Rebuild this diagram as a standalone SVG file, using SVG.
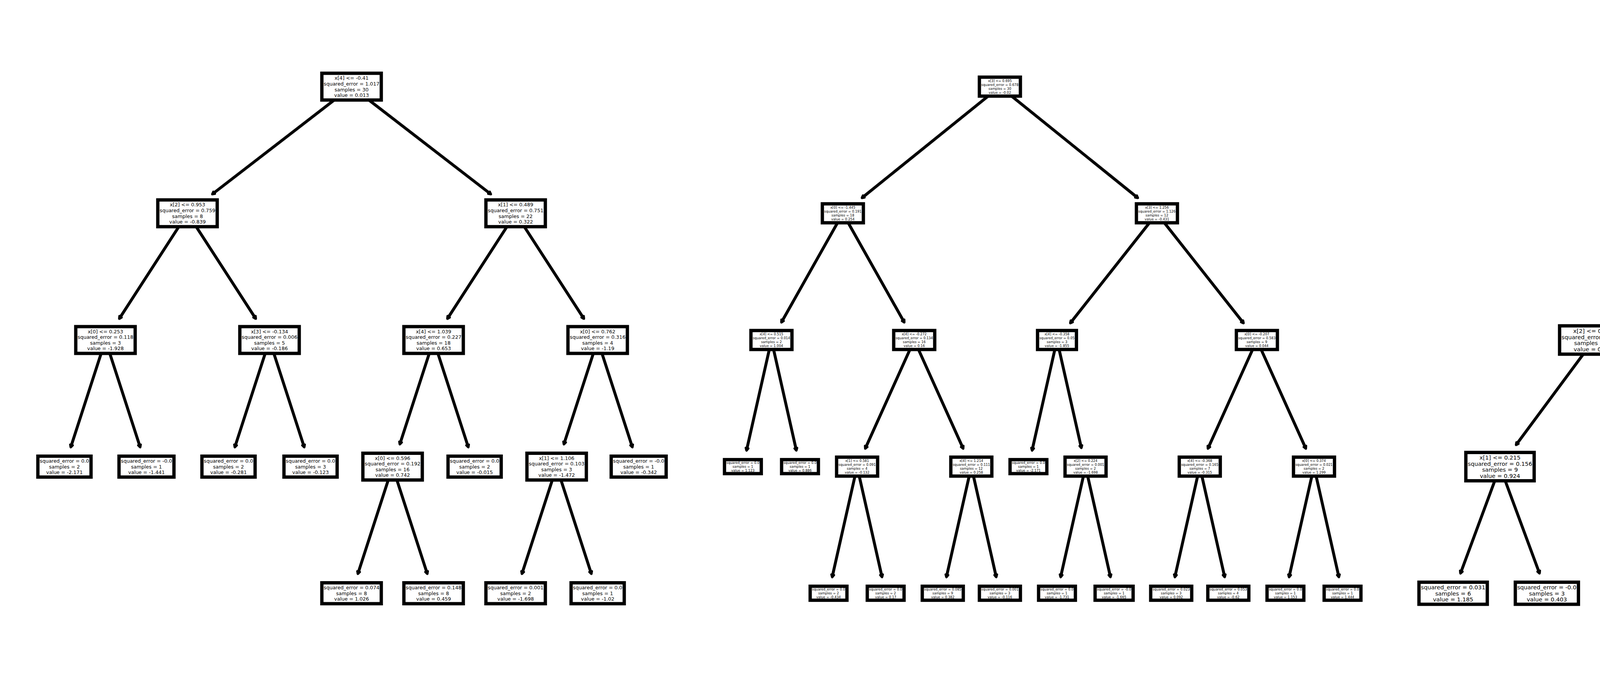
<svg xmlns="http://www.w3.org/2000/svg" width="5339" height="1740" viewBox="0 0 5339 1740">
<style>
.b{fill:#fff;stroke:#000;stroke-width:8.5}
text{font-family:"DejaVu Sans",sans-serif;text-anchor:middle;dominant-baseline:central;fill:#000}
.T1 text{font-size:12.6px}
.T2 text{font-size:8.45px}
.T3 text{font-size:14.6px}
.e line{stroke:#000;stroke-width:7.5;fill:none;marker-end:url(#ah)}
</style>
<defs>
<marker id="ah" viewBox="-12 -12 24 24" markerWidth="24" markerHeight="24" refX="0" refY="0" orient="auto" markerUnits="userSpaceOnUse"><path d="M-6,-3.2 L0,0 L-6,3.2" fill="none" stroke="#000" stroke-width="6" stroke-linejoin="round" stroke-linecap="round"/></marker>
</defs>
<rect x="0" y="0" width="5339" height="1740" fill="#fff"/>
<g id="connectors" class="e">
<line x1="855.6" y1="256" x2="543.4" y2="496.9"/>
<line x1="944.4" y1="256" x2="1256.6" y2="496.9"/>
<line x1="457.8" y1="580" x2="305.3" y2="815.6"/>
<line x1="502.2" y1="580" x2="654.8" y2="815.6"/>
<line x1="1297.8" y1="580" x2="1145.3" y2="815.6"/>
<line x1="1342.2" y1="580" x2="1494.8" y2="815.6"/>
<line x1="258.9" y1="904.3" x2="181.1" y2="1144.4"/>
<line x1="281.1" y1="904.3" x2="358.9" y2="1144.4"/>
<line x1="678.9" y1="904.3" x2="601.1" y2="1144.4"/>
<line x1="701.1" y1="904.3" x2="778.9" y2="1144.4"/>
<line x1="1098.9" y1="904.3" x2="1023.5" y2="1136.9"/>
<line x1="1121.1" y1="904.3" x2="1198.9" y2="1144.4"/>
<line x1="1518.9" y1="904.3" x2="1443.5" y2="1136.9"/>
<line x1="1541.1" y1="904.3" x2="1618.9" y2="1144.4"/>
<line x1="993.9" y1="1228.3" x2="916.1" y2="1468.4"/>
<line x1="1016.1" y1="1228.3" x2="1093.9" y2="1468.4"/>
<line x1="1413.9" y1="1228.3" x2="1336.1" y2="1468.4"/>
<line x1="1436.1" y1="1228.3" x2="1513.9" y2="1468.4"/>
<line x1="2529.6" y1="246" x2="2206.5" y2="506.5"/>
<line x1="2589.8" y1="246" x2="2912.9" y2="506.5"/>
<line x1="2144" y1="570.1" x2="2000.4" y2="824.9"/>
<line x1="2171.4" y1="570.1" x2="2315" y2="824.9"/>
<line x1="2942.6" y1="570.1" x2="2739.9" y2="826.9"/>
<line x1="2980.8" y1="570.1" x2="3183.5" y2="826.9"/>
<line x1="1969.4" y1="894.3" x2="1911.1" y2="1152.7"/>
<line x1="1980.4" y1="894.3" x2="2038.7" y2="1152.7"/>
<line x1="2329.5" y1="894.3" x2="2215" y2="1147.9"/>
<line x1="2351.3" y1="894.3" x2="2465.8" y2="1147.9"/>
<line x1="2700.4" y1="894.3" x2="2642.1" y2="1152.7"/>
<line x1="2711.4" y1="894.3" x2="2768.3" y2="1146.3"/>
<line x1="3206.7" y1="894.3" x2="3092.2" y2="1147.9"/>
<line x1="3228.5" y1="894.3" x2="3343" y2="1147.9"/>
<line x1="2188.7" y1="1218.3" x2="2130.4" y2="1476.7"/>
<line x1="2199.7" y1="1218.3" x2="2258" y2="1476.7"/>
<line x1="2481.1" y1="1218.3" x2="2422.8" y2="1476.7"/>
<line x1="2492.1" y1="1218.3" x2="2550.4" y2="1476.7"/>
<line x1="2773.5" y1="1218.3" x2="2715.2" y2="1476.7"/>
<line x1="2784.5" y1="1218.3" x2="2842.8" y2="1476.7"/>
<line x1="3065.9" y1="1218.3" x2="3007.6" y2="1476.7"/>
<line x1="3076.9" y1="1218.3" x2="3135.2" y2="1476.7"/>
<line x1="3358.3" y1="1218.3" x2="3300" y2="1476.7"/>
<line x1="3369.3" y1="1218.3" x2="3427.6" y2="1476.7"/>
<line x1="4673.1" y1="258" x2="4434" y2="492.7"/>
<line x1="4746.9" y1="258" x2="4986" y2="492.7"/>
<line x1="4346.4" y1="582.1" x2="4129.9" y2="816.1"/>
<line x1="4413.6" y1="582.1" x2="4630.1" y2="816.1"/>
<line x1="5026.6" y1="582.1" x2="4938.8" y2="819.2"/>
<line x1="5053.4" y1="582.1" x2="5141.2" y2="819.2"/>
<line x1="4053.2" y1="906.3" x2="3881.1" y2="1138.5"/>
<line x1="4106.8" y1="906.3" x2="4278.9" y2="1138.5"/>
<line x1="4666.6" y1="906.3" x2="4578.8" y2="1143.2"/>
<line x1="4693.4" y1="906.3" x2="4781.2" y2="1143.2"/>
<line x1="3826.6" y1="1230.3" x2="3738.8" y2="1467.2"/>
<line x1="3853.4" y1="1230.3" x2="3941.2" y2="1467.2"/>
<line x1="4306.6" y1="1230.3" x2="4218.8" y2="1467.2"/>
<line x1="4333.4" y1="1230.3" x2="4421.2" y2="1467.2"/>
</g>
<g id="tree1" class="T1">
<g id="t1-n0" transform="translate(900,221.7)"><rect class="b" x="-76.05" y="-34.25" width="152.1" height="68.5"/><text y="-21.9">x[4] &lt;= -0.41</text><text y="-7.3">squared_error = 1.017</text><text y="7.3">samples = 30</text><text y="21.9">value = 0.013</text></g>
<g id="t1-n1" transform="translate(480,545.8)"><rect class="b" x="-76.05" y="-34.25" width="152.1" height="68.5"/><text y="-21.9">x[2] &lt;= 0.953</text><text y="-7.3">squared_error = 0.759</text><text y="7.3">samples = 8</text><text y="21.9">value = -0.839</text></g>
<g id="t1-n2" transform="translate(1320,545.8)"><rect class="b" x="-76.05" y="-34.25" width="152.1" height="68.5"/><text y="-21.9">x[1] &lt;= 0.489</text><text y="-7.3">squared_error = 0.751</text><text y="7.3">samples = 22</text><text y="21.9">value = 0.322</text></g>
<g id="t1-n3" transform="translate(270,870)"><rect class="b" x="-76.05" y="-34.25" width="152.1" height="68.5"/><text y="-21.9">x[0] &lt;= 0.253</text><text y="-7.3">squared_error = 0.118</text><text y="7.3">samples = 3</text><text y="21.9">value = -1.928</text></g>
<g id="t1-n4" transform="translate(690,870)"><rect class="b" x="-76.05" y="-34.25" width="152.1" height="68.5"/><text y="-21.9">x[3] &lt;= -0.134</text><text y="-7.3">squared_error = 0.006</text><text y="7.3">samples = 5</text><text y="21.9">value = -0.186</text></g>
<g id="t1-n5" transform="translate(1110,870)"><rect class="b" x="-76.05" y="-34.25" width="152.1" height="68.5"/><text y="-21.9">x[4] &lt;= 1.039</text><text y="-7.3">squared_error = 0.227</text><text y="7.3">samples = 18</text><text y="21.9">value = 0.653</text></g>
<g id="t1-n6" transform="translate(1530,870)"><rect class="b" x="-76.05" y="-34.25" width="152.1" height="68.5"/><text y="-21.9">x[0] &lt;= 0.762</text><text y="-7.3">squared_error = 0.316</text><text y="7.3">samples = 4</text><text y="21.9">value = -1.19</text></g>
<g id="t1-n7" transform="translate(165,1194)"><rect class="b" x="-68.05" y="-26.75" width="136.1" height="53.5"/><text y="-14.6">squared_error = 0.0</text><text y="0">samples = 2</text><text y="14.6">value = -2.171</text></g>
<g id="t1-n8" transform="translate(375,1194)"><rect class="b" x="-70.35" y="-26.75" width="140.7" height="53.5"/><text y="-14.6">squared_error = -0.0</text><text y="0">samples = 1</text><text y="14.6">value = -1.441</text></g>
<g id="t1-n9" transform="translate(585,1194)"><rect class="b" x="-68.05" y="-26.75" width="136.1" height="53.5"/><text y="-14.6">squared_error = 0.0</text><text y="0">samples = 2</text><text y="14.6">value = -0.281</text></g>
<g id="t1-n10" transform="translate(795,1194)"><rect class="b" x="-68.05" y="-26.75" width="136.1" height="53.5"/><text y="-14.6">squared_error = 0.0</text><text y="0">samples = 3</text><text y="14.6">value = -0.123</text></g>
<g id="t1-n11" transform="translate(1005,1194)"><rect class="b" x="-76.05" y="-34.25" width="152.1" height="68.5"/><text y="-21.9">x[0] &lt;= 0.596</text><text y="-7.3">squared_error = 0.192</text><text y="7.3">samples = 16</text><text y="21.9">value = 0.742</text></g>
<g id="t1-n12" transform="translate(1215,1194)"><rect class="b" x="-68.05" y="-26.75" width="136.1" height="53.5"/><text y="-14.6">squared_error = 0.0</text><text y="0">samples = 2</text><text y="14.6">value = -0.015</text></g>
<g id="t1-n13" transform="translate(1425,1194)"><rect class="b" x="-76.05" y="-34.25" width="152.1" height="68.5"/><text y="-21.9">x[1] &lt;= 1.106</text><text y="-7.3">squared_error = 0.103</text><text y="7.3">samples = 3</text><text y="21.9">value = -1.472</text></g>
<g id="t1-n14" transform="translate(1635,1194)"><rect class="b" x="-70.35" y="-26.75" width="140.7" height="53.5"/><text y="-14.6">squared_error = -0.0</text><text y="0">samples = 1</text><text y="14.6">value = -0.342</text></g>
<g id="t1-n15" transform="translate(900,1518)"><rect class="b" x="-76.05" y="-26.75" width="152.1" height="53.5"/><text y="-14.6">squared_error = 0.074</text><text y="0">samples = 8</text><text y="14.6">value = 1.026</text></g>
<g id="t1-n16" transform="translate(1110,1518)"><rect class="b" x="-76.05" y="-26.75" width="152.1" height="53.5"/><text y="-14.6">squared_error = 0.148</text><text y="0">samples = 8</text><text y="14.6">value = 0.459</text></g>
<g id="t1-n17" transform="translate(1320,1518)"><rect class="b" x="-76.05" y="-26.75" width="152.1" height="53.5"/><text y="-14.6">squared_error = 0.001</text><text y="0">samples = 2</text><text y="14.6">value = -1.698</text></g>
<g id="t1-n18" transform="translate(1530,1518)"><rect class="b" x="-68.05" y="-26.75" width="136.1" height="53.5"/><text y="-14.6">squared_error = 0.0</text><text y="0">samples = 1</text><text y="14.6">value = -1.02</text></g>
</g>
<g id="tree2" class="T2">
<g id="t2-n0" transform="translate(2559.7,221.7)"><rect class="b" x="-52.5" y="-24.25" width="105" height="48.5"/><text y="-15.15">x[3] &lt;= 0.695</text><text y="-5.05">squared_error = 0.678</text><text y="5.05">samples = 30</text><text y="15.15">value = -0.02</text></g>
<g id="t2-n1" transform="translate(2157.7,545.8)"><rect class="b" x="-52.5" y="-24.25" width="105" height="48.5"/><text y="-15.15">x[0] &lt;= -1.445</text><text y="-5.05">squared_error = 0.191</text><text y="5.05">samples = 18</text><text y="15.15">value = 0.254</text></g>
<g id="t2-n2" transform="translate(2961.7,545.8)"><rect class="b" x="-52.5" y="-24.25" width="105" height="48.5"/><text y="-15.15">x[3] &lt;= 1.256</text><text y="-5.05">squared_error = 1.126</text><text y="5.05">samples = 12</text><text y="15.15">value = -0.431</text></g>
<g id="t2-n3" transform="translate(1974.9,870)"><rect class="b" x="-52.5" y="-24.25" width="105" height="48.5"/><text y="-15.15">x[4] &lt;= 0.515</text><text y="-5.05">squared_error = 0.014</text><text y="5.05">samples = 2</text><text y="15.15">value = 1.004</text></g>
<g id="t2-n4" transform="translate(2340.4,870)"><rect class="b" x="-52.5" y="-24.25" width="105" height="48.5"/><text y="-15.15">x[4] &lt;= -0.272</text><text y="-5.05">squared_error = 0.134</text><text y="5.05">samples = 16</text><text y="15.15">value = 0.16</text></g>
<g id="t2-n5" transform="translate(2705.9,870)"><rect class="b" x="-49.8" y="-24.25" width="99.6" height="48.5"/><text y="-15.15">x[4] &lt;= -0.358</text><text y="-5.05">squared_error = 0.05</text><text y="5.05">samples = 3</text><text y="15.15">value = -1.855</text></g>
<g id="t2-n6" transform="translate(3217.6,870)"><rect class="b" x="-52.5" y="-24.25" width="105" height="48.5"/><text y="-15.15">x[0] &lt;= -0.207</text><text y="-5.05">squared_error = 0.583</text><text y="5.05">samples = 9</text><text y="15.15">value = 0.044</text></g>
<g id="t2-n7" transform="translate(1901.8,1194)"><rect class="b" x="-47.1" y="-17.9" width="94.2" height="35.8"/><text y="-10.1">squared_error = 0.0</text><text y="0">samples = 1</text><text y="10.1">value = 1.123</text></g>
<g id="t2-n8" transform="translate(2048,1194)"><rect class="b" x="-47.1" y="-17.9" width="94.2" height="35.8"/><text y="-10.1">squared_error = 0.0</text><text y="0">samples = 1</text><text y="10.1">value = 0.886</text></g>
<g id="t2-n9" transform="translate(2194.2,1194)"><rect class="b" x="-52.5" y="-24.25" width="105" height="48.5"/><text y="-15.15">x[1] &lt;= 0.581</text><text y="-5.05">squared_error = 0.091</text><text y="5.05">samples = 4</text><text y="15.15">value = -0.132</text></g>
<g id="t2-n10" transform="translate(2486.6,1194)"><rect class="b" x="-52.5" y="-24.25" width="105" height="48.5"/><text y="-15.15">x[4] &lt;= 1.214</text><text y="-5.05">squared_error = 0.111</text><text y="5.05">samples = 12</text><text y="15.15">value = 0.258</text></g>
<g id="t2-n11" transform="translate(2632.8,1194)"><rect class="b" x="-47.1" y="-17.9" width="94.2" height="35.8"/><text y="-10.1">squared_error = 0.0</text><text y="0">samples = 1</text><text y="10.1">value = -2.171</text></g>
<g id="t2-n12" transform="translate(2779,1194)"><rect class="b" x="-52.5" y="-24.25" width="105" height="48.5"/><text y="-15.15">x[2] &lt;= 0.224</text><text y="-5.05">squared_error = 0.001</text><text y="5.05">samples = 2</text><text y="15.15">value = -1.698</text></g>
<g id="t2-n13" transform="translate(3071.4,1194)"><rect class="b" x="-52.5" y="-24.25" width="105" height="48.5"/><text y="-15.15">x[4] &lt;= -0.368</text><text y="-5.05">squared_error = 0.165</text><text y="5.05">samples = 7</text><text y="15.15">value = -0.315</text></g>
<g id="t2-n14" transform="translate(3363.8,1194)"><rect class="b" x="-52.5" y="-24.25" width="105" height="48.5"/><text y="-15.15">x[0] &lt;= 0.374</text><text y="-5.05">squared_error = 0.021</text><text y="5.05">samples = 2</text><text y="15.15">value = 1.299</text></g>
<g id="t2-n15" transform="translate(2121.1,1518)"><rect class="b" x="-47.1" y="-17.9" width="94.2" height="35.8"/><text y="-10.1">squared_error = 0.0</text><text y="0">samples = 2</text><text y="10.1">value = -0.434</text></g>
<g id="t2-n16" transform="translate(2267.3,1518)"><rect class="b" x="-47.1" y="-17.9" width="94.2" height="35.8"/><text y="-10.1">squared_error = 0.0</text><text y="0">samples = 2</text><text y="10.1">value = 0.17</text></g>
<g id="t2-n17" transform="translate(2413.5,1518)"><rect class="b" x="-52.5" y="-17.9" width="105" height="35.8"/><text y="-10.1">squared_error = 0.085</text><text y="0">samples = 9</text><text y="10.1">value = 0.382</text></g>
<g id="t2-n18" transform="translate(2559.7,1518)"><rect class="b" x="-52.5" y="-17.9" width="105" height="35.8"/><text y="-10.1">squared_error = 0.001</text><text y="0">samples = 3</text><text y="10.1">value = -0.116</text></g>
<g id="t2-n19" transform="translate(2705.9,1518)"><rect class="b" x="-47.1" y="-17.9" width="94.2" height="35.8"/><text y="-10.1">squared_error = 0.0</text><text y="0">samples = 1</text><text y="10.1">value = -1.731</text></g>
<g id="t2-n20" transform="translate(2852.1,1518)"><rect class="b" x="-48.65" y="-17.9" width="97.3" height="35.8"/><text y="-10.1">squared_error = -0.0</text><text y="0">samples = 1</text><text y="10.1">value = -1.665</text></g>
<g id="t2-n21" transform="translate(2998.3,1518)"><rect class="b" x="-52.5" y="-17.9" width="105" height="35.8"/><text y="-10.1">squared_error = 0.023</text><text y="0">samples = 3</text><text y="10.1">value = 0.092</text></g>
<g id="t2-n22" transform="translate(3144.5,1518)"><rect class="b" x="-52.5" y="-17.9" width="105" height="35.8"/><text y="-10.1">squared_error = 0.053</text><text y="0">samples = 4</text><text y="10.1">value = -0.62</text></g>
<g id="t2-n23" transform="translate(3290.7,1518)"><rect class="b" x="-47.1" y="-17.9" width="94.2" height="35.8"/><text y="-10.1">squared_error = 0.0</text><text y="0">samples = 1</text><text y="10.1">value = 1.153</text></g>
<g id="t2-n24" transform="translate(3436.9,1518)"><rect class="b" x="-47.1" y="-17.9" width="94.2" height="35.8"/><text y="-10.1">squared_error = 0.0</text><text y="0">samples = 1</text><text y="10.1">value = 1.444</text></g>
</g>
<g id="tree3" class="T3">
<g id="t3-n0" transform="translate(4710,221.7)"><rect class="b" x="-87.45" y="-36.25" width="174.9" height="72.5"/><text y="-23.85">x[4] &lt;= 1.4</text><text y="-7.95">squared_error = 0.908</text><text y="7.95">samples = 30</text><text y="23.85">value = 0.039</text></g>
<g id="t3-n1" transform="translate(4380,545.8)"><rect class="b" x="-87.45" y="-36.25" width="174.9" height="72.5"/><text y="-23.85">x[1] &lt;= 0.867</text><text y="-7.95">squared_error = 0.736</text><text y="7.95">samples = 23</text><text y="23.85">value = 0.292</text></g>
<g id="t3-n2" transform="translate(5040,545.8)"><rect class="b" x="-87.45" y="-36.25" width="174.9" height="72.5"/><text y="-23.85">x[0] &lt;= 0.515</text><text y="-7.95">squared_error = 0.571</text><text y="7.95">samples = 7</text><text y="23.85">value = -0.792</text></g>
<g id="t3-n3" transform="translate(4080,870)"><rect class="b" x="-87.45" y="-36.25" width="174.9" height="72.5"/><text y="-23.85">x[2] &lt;= 0.336</text><text y="-7.95">squared_error = 0.266</text><text y="7.95">samples = 20</text><text y="23.85">value = 0.567</text></g>
<g id="t3-n4" transform="translate(4680,870)"><rect class="b" x="-87.45" y="-36.25" width="174.9" height="72.5"/><text y="-23.85">x[0] &lt;= 0.157</text><text y="-7.95">squared_error = 0.019</text><text y="7.95">samples = 3</text><text y="23.85">value = -1.538</text></g>
<g id="t3-n5" transform="translate(4920,870)"><rect class="b" x="-78.15" y="-28.25" width="156.3" height="56.5"/><text y="-15.9">squared_error = 0.0</text><text y="0">samples = 3</text><text y="15.9">value = -1.665</text></g>
<g id="t3-n6" transform="translate(5160,870)"><rect class="b" x="-78.15" y="-28.25" width="156.3" height="56.5"/><text y="-15.9">squared_error = 0.0</text><text y="0">samples = 4</text><text y="15.9">value = -0.137</text></g>
<g id="t3-n7" transform="translate(3840,1194)"><rect class="b" x="-87.45" y="-36.25" width="174.9" height="72.5"/><text y="-23.85">x[1] &lt;= 0.215</text><text y="-7.95">squared_error = 0.156</text><text y="7.95">samples = 9</text><text y="23.85">value = 0.924</text></g>
<g id="t3-n8" transform="translate(4320,1194)"><rect class="b" x="-87.45" y="-36.25" width="174.9" height="72.5"/><text y="-23.85">x[0] &lt;= -1.58</text><text y="-7.95">squared_error = 0.166</text><text y="7.95">samples = 11</text><text y="23.85">value = 0.274</text></g>
<g id="t3-n9" transform="translate(4560,1194)"><rect class="b" x="-78.15" y="-28.25" width="156.3" height="56.5"/><text y="-15.9">squared_error = 0.0</text><text y="0">samples = 1</text><text y="15.9">value = -1.731</text></g>
<g id="t3-n10" transform="translate(4800,1194)"><rect class="b" x="-78.15" y="-28.25" width="156.3" height="56.5"/><text y="-15.9">squared_error = 0.0</text><text y="0">samples = 2</text><text y="15.9">value = -1.441</text></g>
<g id="t3-n11" transform="translate(3720,1518)"><rect class="b" x="-87.45" y="-28.25" width="174.9" height="56.5"/><text y="-15.9">squared_error = 0.031</text><text y="0">samples = 6</text><text y="15.9">value = 1.185</text></g>
<g id="t3-n12" transform="translate(3960,1518)"><rect class="b" x="-80.8" y="-28.25" width="161.6" height="56.5"/><text y="-15.9">squared_error = -0.0</text><text y="0">samples = 3</text><text y="15.9">value = 0.403</text></g>
<g id="t3-n13" transform="translate(4200,1518)"><rect class="b" x="-78.15" y="-28.25" width="156.3" height="56.5"/><text y="-15.9">squared_error = 0.0</text><text y="0">samples = 2</text><text y="15.9">value = 0.886</text></g>
<g id="t3-n14" transform="translate(4440,1518)"><rect class="b" x="-87.45" y="-28.25" width="174.9" height="56.5"/><text y="-15.9">squared_error = 0.101</text><text y="0">samples = 9</text><text y="15.9">value = 0.138</text></g>
</g>
</svg>
